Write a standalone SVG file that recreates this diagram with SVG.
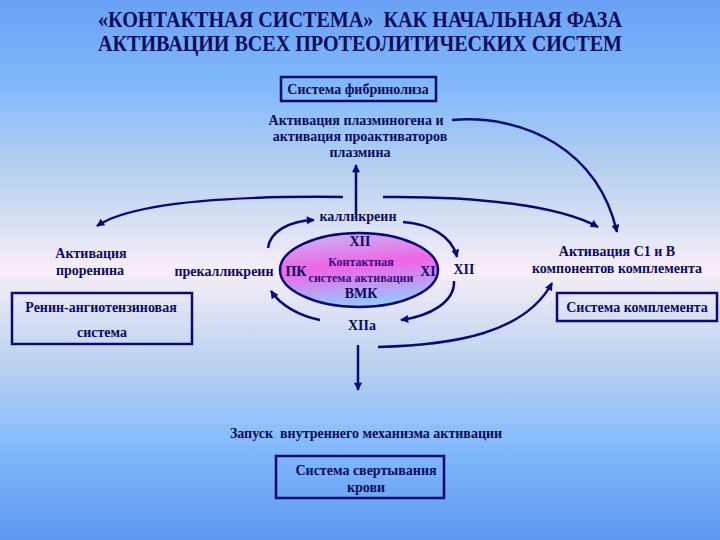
<svg xmlns="http://www.w3.org/2000/svg" width="720" height="540" viewBox="0 0 720 540">
<defs>
<linearGradient id="bg" x1="0" y1="0" x2="0" y2="1">
<stop offset="0" stop-color="#6aa0f4"/>
<stop offset="0.16" stop-color="#82b9fb"/>
<stop offset="0.33" stop-color="#bcd3f0"/>
<stop offset="0.5" stop-color="#f8eef8"/>
<stop offset="0.67" stop-color="#bcd3f0"/>
<stop offset="0.83" stop-color="#82b9fb"/>
<stop offset="1" stop-color="#5e96f2"/>
</linearGradient>
<linearGradient id="ell" x1="0.3" y1="0" x2="0.5" y2="1">
<stop offset="0" stop-color="#c8b4f4"/>
<stop offset="0.45" stop-color="#f064e6"/>
<stop offset="1" stop-color="#94ccff"/>
</linearGradient>
<marker id="ah" viewBox="0 0 10 10" refX="9" refY="5" markerWidth="10" markerHeight="8" markerUnits="userSpaceOnUse" orient="auto">
<path d="M0,0 L10,5 L0,10 z" fill="#0a0a70"/>
</marker>
<style>
text{font-family:'Liberation Serif','Times New Roman',serif;font-weight:bold;fill:#0a0a5e;text-anchor:middle}
.t{font-size:23px;fill:#0b0b5c}
.s{font-size:14px}
.p{font-size:12px;fill:#3a0c80}
.box{fill:none;stroke:#0a0a70;stroke-width:2.5}
.c{fill:none;stroke:#0a0a70;stroke-width:2.5;marker-end:url(#ah)}
</style>
</defs>
<rect width="720" height="540" fill="url(#bg)"/>

<g id="title">
<text class="t" x="360" y="27" textLength="524" lengthAdjust="spacingAndGlyphs" xml:space="preserve">«КОНТАКТНАЯ СИСТЕМА»  КАК НАЧАЛЬНАЯ ФАЗА</text>
<text class="t" x="360" y="51" textLength="524" lengthAdjust="spacingAndGlyphs">АКТИВАЦИИ ВСЕХ ПРОТЕОЛИТИЧЕСКИХ СИСТЕМ</text>
</g>

<g id="fibrinolysis">
<rect class="box" x="281" y="77" width="155" height="24"/>
<text class="s" x="358" y="94">Система фибринолиза</text>
</g>

<g id="plasminogen">
<text class="s" x="356" y="125">Активация плазминогена и</text>
<text class="s" x="360" y="141">активация проактиваторов</text>
<text class="s" x="360" y="157">плазмина</text>
</g>

<g id="kallikrein">
<text class="s" x="358" y="221">калликреин</text>
</g>

<g id="contact">
<ellipse cx="359" cy="270" rx="79" ry="37" fill="url(#ell)" stroke="#0a0a70" stroke-width="2.5"/>
<text class="s" x="360" y="246">XII</text>
<text class="s" x="296" y="276">ПК</text>
<text class="s" x="428" y="276">XI</text>
<text class="p" x="361" y="266">Контактная</text>
<text class="p" x="361" y="282">система активации</text>
<text class="s" x="361" y="298">ВМК</text>
</g>

<g id="xii-right"><text class="s" x="464" y="274">XII</text></g>
<g id="xiia"><text class="s" x="362" y="330">XIIa</text></g>
<g id="prekallikrein"><text class="s" x="224" y="276">прекалликреин</text></g>

<g id="prorenin">
<text class="s" x="91" y="258">Активация</text>
<text class="s" x="90" y="275">проренина</text>
</g>

<g id="renin">
<rect class="box" x="12" y="293" width="180" height="51"/>
<text class="s" x="101" y="312">Ренин-ангиотензиновая</text>
<text class="s" x="102" y="337">система</text>
</g>

<g id="c1b">
<text class="s" x="617" y="256">Активация С1 и В</text>
<text class="s" x="617" y="273">компонентов комплемента</text>
</g>

<g id="complement">
<rect class="box" x="557" y="293" width="160" height="28"/>
<text class="s" x="637" y="312">Система комплемента</text>
</g>

<g id="intrinsic">
<text class="s" x="366" y="438" xml:space="preserve">Запуск  внутреннего механизма активации</text>
</g>

<g id="coagulation">
<rect class="box" x="276" y="456" width="168" height="42"/>
<text class="s" x="366" y="475">Система свертывания</text>
<text class="s" x="366" y="492">крови</text>
</g>

<g id="connectors">
<path class="c" d="M356,215 L356,165"/>
<path class="c" d="M452,120 C525,114 598,150 617,232"/>
<path class="c" d="M343,197 C250,196 135,200 97,226"/>
<path class="c" d="M383,197 C480,196 560,206 598,227"/>
<path class="c" d="M268,248 C270,232 288,221 314,220"/>
<path class="c" d="M403,222 C430,224 452,236 457,257"/>
<path class="c" d="M454,281 C455,302 430,316 401,320"/>
<path class="c" d="M320,320 C300,316 281,306 271,291"/>
<path class="c" d="M358,345 L358,390"/>
<path class="c" d="M378,347 C455,345 525,333 552,283"/>
</g>
</svg>
